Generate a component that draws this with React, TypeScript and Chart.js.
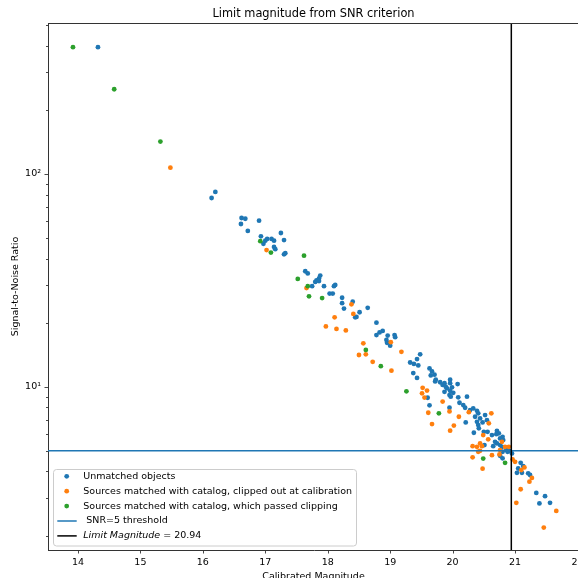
import React, { useEffect, useRef } from 'react';
import { Chart, registerables } from 'chart.js';
Chart.register(...registerables);

const TITLE = 'Limit magnitude from SNR criterion';
const X_LABEL = 'Calibrated Magnitude';
const Y_LABEL = 'Signal-to-Noise Ratio';
const X_TICKS = [14, 15, 16, 17, 18, 19, 20, 21, 22];
const Y_TICKS = [2, 3, 4, 5, 6, 7, 8, 9, 10, 20, 30, 40, 50, 60, 70, 80, 90, 100, 200, 300, 400, 500];
const Y_MAJOR_LABELS: Record<number, string> = { 10: '10\u00B9', 100: '10\u00B2' };
const X_MIN = 13.52;
const X_MAX = 22.04;
const Y_MIN = 1.71;
const Y_MAX = 512;
const SNR_THRESHOLD = 5;
const LIMIT_MAG = 20.94;

const SERIES_LABELS = [
  'Unmatched objects',
  'Sources matched with catalog, clipped out at calibration',
  'Sources matched with catalog, which passed clipping',
  ' SNR=5 threshold',
  'Limit Magnitude = 20.94',
];

const unmatchedMag = [14.32, 16.20, 16.14, 16.62, 16.68, 16.61, 16.90, 16.72, 17.25, 16.93, 16.97, 17.00, 17.03, 17.10, 17.14, 17.30, 17.14, 17.16, 17.30, 17.32, 17.64, 17.68, 17.88, 17.86, 17.82, 17.80, 17.86, 17.75, 17.94, 18.10, 18.12, 18.03, 18.08, 18.23, 18.26, 18.23, 18.40, 18.46, 18.44, 18.51, 18.64, 18.78, 18.78, 18.83, 18.88, 18.96, 18.94, 18.95, 19.00, 19.07, 19.08, 19.48, 19.43, 19.32, 19.38, 19.45, 19.37, 19.43, 19.63, 19.67, 19.65, 19.71, 19.73, 19.72, 19.80, 19.84, 19.87, 19.96, 19.91, 19.96, 19.87, 20.08, 20.09, 20.23, 20.20, 19.60, 19.63, 19.95, 20.01, 19.95, 19.97, 20.11, 20.17, 20.21, 20.28, 20.33, 20.39, 20.41, 20.36, 20.44, 20.39, 20.48, 20.41, 20.52, 20.55, 20.42, 20.34, 20.50, 20.56, 20.63, 20.71, 20.74, 20.76, 20.68, 20.51, 20.65, 20.79, 20.76, 20.80, 20.88, 20.70, 20.80, 20.81, 20.71, 20.76, 20.86, 20.80, 20.91, 20.95, 21.09, 21.13, 21.05, 21.11, 21.03, 21.21, 21.24, 21.34, 21.48, 21.39, 21.56, 19.89, 19.96, 19.99];
const unmatchedSnr = [394, 82.3, 77.1, 62.1, 61.6, 58.2, 60.3, 54.0, 52.8, 50.9, 47.0, 48.6, 49.5, 49.5, 48.6, 48.9, 45.4, 44.3, 41.9, 42.4, 34.9, 34.1, 33.3, 32.3, 31.6, 31.1, 31.4, 29.7, 29.7, 29.7, 30.1, 27.4, 27.4, 26.2, 23.3, 24.7, 25.1, 21.3, 21.2, 22.4, 23.5, 20.0, 17.5, 18.0, 18.3, 17.4, 16.6, 16.1, 15.6, 17.5, 17.1, 14.2, 13.5, 13.0, 12.8, 12.6, 11.6, 11.0, 12.2, 11.8, 11.3, 11.4, 10.8, 10.6, 10.5, 10.2, 10.4, 10.8, 9.83, 9.58, 9.47, 10.3, 8.92, 8.98, 7.97, 8.88, 8.18, 7.97, 9.37, 9.14, 8.98, 8.41, 8.20, 6.80, 7.77, 7.91, 7.71, 7.50, 7.23, 7.10, 6.84, 6.80, 6.61, 7.36, 6.97, 6.38, 6.08, 6.14, 6.14, 5.93, 6.21, 6.04, 5.72, 5.51, 5.32, 5.26, 5.22, 4.74, 4.61, 4.95, 5.99, 5.82, 5.62, 5.42, 5.32, 5.04, 4.95, 5.00, 4.86, 4.39, 4.24, 4.13, 3.94, 3.94, 3.92, 3.85, 3.17, 3.06, 2.83, 2.85, 10.0, 10.4, 9.94];

const clippedMag = [15.48, 17.02, 17.66, 18.38, 18.41, 18.11, 17.97, 18.14, 18.29, 18.57, 18.61, 18.50, 18.72, 19.01, 19.02, 19.18, 19.52, 19.59, 19.51, 19.55, 19.61, 19.67, 19.84, 19.95, 20.10, 20.02, 19.96, 20.26, 20.58, 20.62, 20.49, 20.57, 20.79, 20.32, 20.44, 20.39, 20.47, 20.44, 20.41, 20.32, 20.63, 20.48, 20.84, 20.90, 20.76, 20.75, 20.96, 21.00, 21.15, 21.10, 21.27, 21.23, 21.09, 21.02, 21.66, 21.46];
const clippedSnr = [107, 43.9, 29.1, 24.4, 22.0, 21.2, 19.2, 18.7, 18.4, 16.0, 14.2, 14.1, 13.1, 16.2, 11.9, 14.6, 9.89, 9.60, 9.31, 8.90, 7.55, 6.68, 8.52, 7.66, 7.23, 6.57, 6.22, 7.60, 6.73, 7.50, 5.93, 5.66, 5.51, 5.26, 5.42, 5.22, 5.26, 5.00, 4.95, 4.66, 4.77, 4.12, 5.22, 5.22, 5.04, 4.81, 4.56, 4.44, 4.18, 4.06, 3.73, 3.58, 3.30, 2.85, 2.61, 2.18];

const passedMag = [13.92, 14.58, 15.32, 16.92, 17.09, 17.62, 17.52, 17.68, 17.70, 17.91, 18.61, 18.85, 19.26, 19.78, 20.49, 20.84];
const passedSnr = [394, 250, 142, 48.3, 42.7, 41.3, 32.1, 29.7, 26.6, 26.1, 14.9, 12.5, 9.52, 7.50, 4.60, 4.39];

const BLUE = '#1f77b4';
const ORANGE = '#ff7f0e';
const GREEN = '#2ca02c';
const FONT = '"DejaVu Sans", sans-serif';

const pts = (xs: number[], ys: number[]) => xs.map((x, i) => ({ x, y: ys[i] }));

const decorPlugin = {
  id: 'decor',
  afterDraw(chart: any) {
    const ctx = chart.ctx as CanvasRenderingContext2D;
    const area = chart.chartArea;
    const xs = chart.scales.x;
    const ys = chart.scales.y;
    ctx.save();
    ctx.strokeStyle = '#333';
    ctx.lineWidth = 1;
    ctx.beginPath();
    ctx.moveTo(area.left, area.top + 0.5);
    ctx.lineTo(area.right, area.top + 0.5);
    ctx.stroke();
    ctx.lineWidth = 0.9;
    ctx.beginPath();
    X_TICKS.forEach((v) => {
      const px = Math.round(xs.getPixelForValue(v)) + 0.5;
      ctx.moveTo(px, area.bottom);
      ctx.lineTo(px, area.bottom + 3.5);
    });
    Y_TICKS.forEach((v) => {
      const py = Math.round(ys.getPixelForValue(v)) + 0.5;
      const len = Y_MAJOR_LABELS[v] ? 3.5 : 2;
      ctx.moveTo(area.left, py);
      ctx.lineTo(area.left - len, py);
    });
    ctx.stroke();
    ctx.fillStyle = '#000';
    ctx.font = `11.4px ${FONT}`;
    ctx.textAlign = 'center';
    ctx.textBaseline = 'alphabetic';
    const cx = (area.left + 579) / 2;
    ctx.fillText(TITLE, cx, 17);
    ctx.font = `9.5px ${FONT}`;
    ctx.fillText(X_LABEL, cx, 579);
    ctx.save();
    ctx.translate(18, (area.top + area.bottom) / 2);
    ctx.rotate(-Math.PI / 2);
    ctx.fillText(Y_LABEL, 0, 0);
    ctx.restore();

    const bx = 53.5, by = 469.5, bw = 303, bh = 76.5, r = 3;
    ctx.beginPath();
    ctx.moveTo(bx + r, by);
    ctx.lineTo(bx + bw - r, by);
    ctx.arcTo(bx + bw, by, bx + bw, by + r, r);
    ctx.lineTo(bx + bw, by + bh - r);
    ctx.arcTo(bx + bw, by + bh, bx + bw - r, by + bh, r);
    ctx.lineTo(bx + r, by + bh);
    ctx.arcTo(bx, by + bh, bx, by + bh - r, r);
    ctx.lineTo(bx, by + r);
    ctx.arcTo(bx, by, bx + r, by, r);
    ctx.closePath();
    ctx.fillStyle = 'rgba(255,255,255,0.8)';
    ctx.fill();
    ctx.strokeStyle = '#cccccc';
    ctx.lineWidth = 1;
    ctx.stroke();

    const datasets = chart.data.datasets;
    ctx.textAlign = 'left';
    ctx.textBaseline = 'middle';
    datasets.forEach((ds: any, i: number) => {
      const cy = 476.3 + i * 14.9;
      if (ds.showLine) {
        ctx.strokeStyle = ds.borderColor;
        ctx.lineWidth = 1.5;
        ctx.beginPath();
        ctx.moveTo(57.3, cy);
        ctx.lineTo(76.7, cy);
        ctx.stroke();
      } else {
        ctx.fillStyle = ds.backgroundColor;
        ctx.beginPath();
        ctx.arc(66.7, cy, 2.4, 0, Math.PI * 2);
        ctx.fill();
      }
      ctx.fillStyle = '#000';
      const label: string = ds.label;
      const eq = label.indexOf(' = ');
      if (!ds.showLine || eq < 0) {
        ctx.font = `9.5px ${FONT}`;
        ctx.fillText(label, 83.3, cy);
      } else {
        const a = label.slice(0, eq);
        const b = label.slice(eq);
        ctx.font = `italic 9.5px ${FONT}`;
        ctx.fillText(a, 83.3, cy);
        const w = ctx.measureText(a).width;
        ctx.font = `9.5px ${FONT}`;
        ctx.fillText(b, 83.3 + w, cy);
      }
    });
    ctx.restore();
  },
};

export default function App() {
  const ref = useRef<HTMLCanvasElement>(null);
  useEffect(() => {
    if (!ref.current) return;
    Chart.defaults.font.family = FONT;
    const chart = new Chart(ref.current, {
      type: 'scatter',
      data: {
        datasets: [
          { label: SERIES_LABELS[0], data: pts(unmatchedMag, unmatchedSnr), backgroundColor: BLUE, borderColor: BLUE, pointRadius: 2.4, borderWidth: 0, order: 5 },
          { label: SERIES_LABELS[1], data: pts(clippedMag, clippedSnr), backgroundColor: ORANGE, borderColor: ORANGE, pointRadius: 2.4, borderWidth: 0, order: 4 },
          { label: SERIES_LABELS[2], data: pts(passedMag, passedSnr), backgroundColor: GREEN, borderColor: GREEN, pointRadius: 2.4, borderWidth: 0, order: 3 },
          { type: 'line', label: SERIES_LABELS[3], data: [{ x: X_MIN, y: SNR_THRESHOLD }, { x: X_MAX, y: SNR_THRESHOLD }], borderColor: BLUE, backgroundColor: BLUE, borderWidth: 1.5, pointRadius: 0, showLine: true, fill: false, order: 2 } as any,
          { type: 'line', label: SERIES_LABELS[4], data: [{ x: LIMIT_MAG, y: Y_MIN }, { x: LIMIT_MAG, y: Y_MAX }], borderColor: '#000', backgroundColor: '#000', borderWidth: 1.5, pointRadius: 0, showLine: true, fill: false, order: 1 } as any,
        ],
      },
      options: {
        responsive: false,
        animation: false,
        devicePixelRatio: 1,
        layout: { padding: { left: 0, top: 23, right: 60, bottom: 0 } },
        plugins: { legend: { display: false }, title: { display: false }, tooltip: { enabled: false } },
        scales: {
          x: {
            type: 'linear',
            min: X_MIN,
            max: X_MAX,
            afterBuildTicks: (s: any) => { s.ticks = X_TICKS.map((v) => ({ value: v })); },
            afterFit: (s: any) => { s.height = 28; },
            ticks: { color: '#000', font: { size: 9.5, family: FONT }, padding: 3.5, maxRotation: 0, autoSkip: false, callback: (v: any) => String(v) },
            grid: { display: false, drawOnChartArea: false, drawTicks: true, tickLength: 3.5 },
            border: { display: true, color: '#333', width: 1 },
          },
          y: {
            type: 'logarithmic',
            min: Y_MIN,
            max: Y_MAX,
            afterBuildTicks: (s: any) => { s.ticks = Y_TICKS.map((v) => ({ value: v })); },
            afterFit: (s: any) => { s.width = 48; },
            ticks: { color: '#000', font: { size: 9.5, family: FONT }, padding: 3.5, autoSkip: false, callback: (v: any) => Y_MAJOR_LABELS[v] || '' },
            grid: { display: false, drawOnChartArea: false, drawTicks: true, tickLength: 3.5 },
            border: { display: true, color: '#333', width: 1 },
          },
        },
      } as any,
      plugins: [decorPlugin],
    });
    return () => chart.destroy();
  }, []);
  return (
    <div style={{ position: 'fixed', left: 0, top: 0, width: 578, height: 578, overflow: 'hidden', background: '#fff' }}>
      <canvas ref={ref} width={640} height={578} style={{ display: 'block' }} />
    </div>
  );
}
